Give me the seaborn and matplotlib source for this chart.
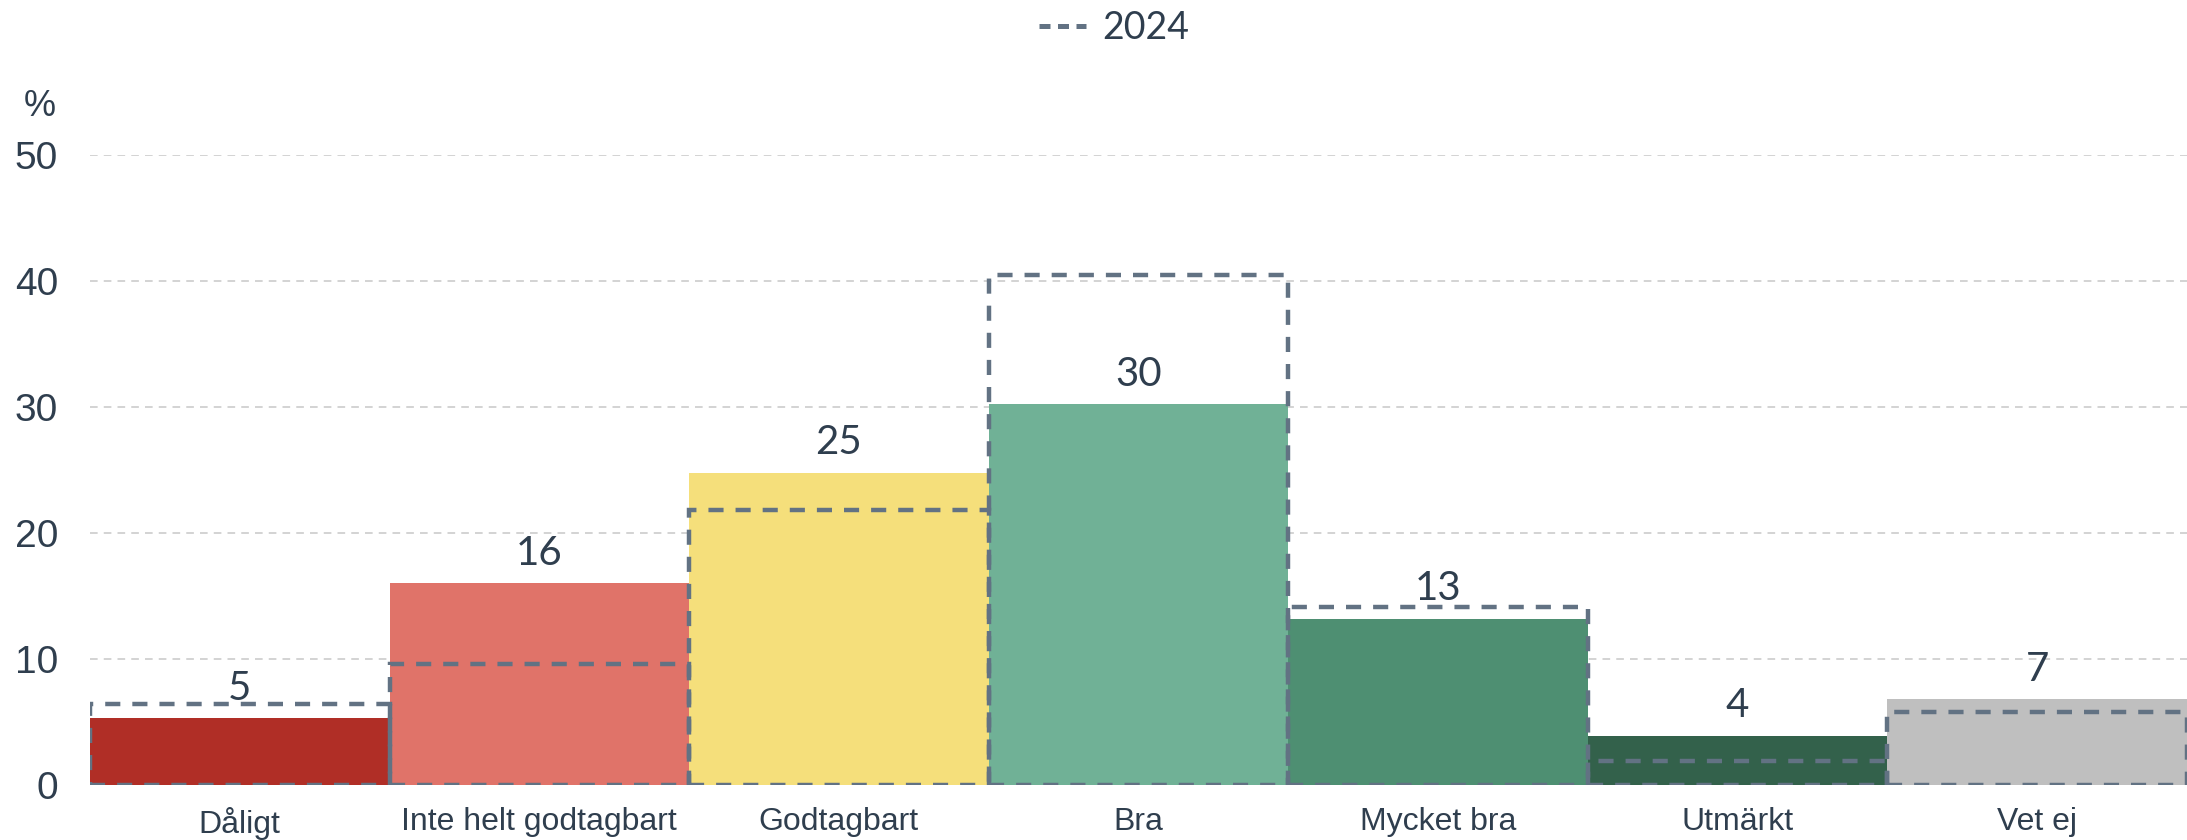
import matplotlib
matplotlib.use("Agg")
import matplotlib.pyplot as plt
from matplotlib.lines import Line2D
import seaborn as sns
import pandas as pd

categories = ["Dåligt", "Inte helt godtagbart", "Godtagbart", "Bra", "Mycket bra", "Utmärkt", "Vet ej"]
values_2025 = [5.3, 16.0, 24.8, 30.2, 13.2, 3.9, 6.8]
labels_2025 = ["5", "16", "25", "30", "13", "4", "7"]
values_2024 = [6.4, 9.6, 21.8, 40.5, 14.1, 1.9, 5.8]
colors = ["#b02e26", "#e07369", "#f5df7b", "#70b196", "#4e8f72", "#33614b", "#bfbfbf"]
yticks = [0, 10, 20, 30, 40, 50]

TEXT = "#2f3e4e"
EDGE = "#627283"

sns.set_theme(style="white")
plt.rcParams["font.family"] = ["Liberation Sans", "DejaVu Sans"]

fig = plt.figure(figsize=(21.87, 8.4), dpi=100)
ax = fig.add_axes([90 / 2187, 1 - 785 / 840, 1 - 90 / 2187, (785 - 155) / 840])

df = pd.DataFrame({"cat": categories, "v": values_2025, "v24": values_2024})

ax.set_axisbelow(True)
for t in yticks:
    ax.axhline(t, color="#c8c8c8", lw=1.1, ls=(0, (5, 4)), zorder=0)

sns.barplot(data=df, x="cat", y="v", hue="cat", palette=colors, width=1.0,
            legend=False, ax=ax, saturation=1, linewidth=0, zorder=2)
n_before = len(ax.patches)
sns.barplot(data=df, x="cat", y="v24", width=1.0, fill=False, color=EDGE,
            legend=False, ax=ax, linewidth=3.2, zorder=3)
for p in ax.patches[n_before:]:
    p.set_linewidth(3.2)
    p.set_linestyle((0, (3.4, 2.7)))
    p.set_edgecolor(EDGE)
    p.set_facecolor("none")

for i, (v, lab) in enumerate(zip(values_2025, labels_2025)):
    ax.annotate(lab, (i, v), xytext=(0, 30 * 72 / 100), textcoords="offset points",
                ha="center", va="center", fontsize=29, color=TEXT,
                family=["Lato", "DejaVu Sans"])

ax.set_xlim(-0.5, len(categories) - 0.5)
ax.set_ylim(0, 50)
ax.set_yticks(yticks)
ax.set_yticklabels([str(t) for t in yticks], fontsize=28, color=TEXT)
ax.set_xticks(range(len(categories)))
ax.set_xticklabels(categories, fontsize=23, color=TEXT)
ax.tick_params(axis="y", length=0, pad=23)
ax.tick_params(axis="x", length=0, pad=16)
ax.set_xlabel("")
ax.set_ylabel("")
for s in ax.spines.values():
    s.set_visible(False)

fig.text(40 / 2187, 1 - 106 / 840, "%", fontsize=26, color=TEXT, ha="center", va="center")

handle = Line2D([0], [0], color=EDGE, lw=3.6, ls=(0, (2.2, 1.5)))
fig.legend([handle], ["2024"], loc="center", bbox_to_anchor=(1114 / 2187, 1 - 28 / 840),
           frameon=False, prop={"family": "Lato", "size": 27}, labelcolor=TEXT,
           handlelength=1.25, handletextpad=0.45)

fig.savefig("out.png", dpi=100)
